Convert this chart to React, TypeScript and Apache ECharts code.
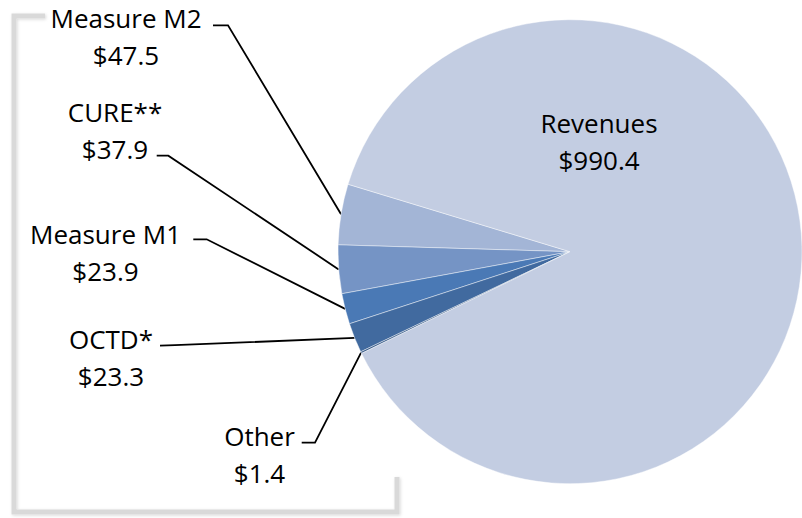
import React, { useEffect, useRef } from "react";
import * as echarts from "echarts";

const categories = ["Measure M2", "CURE**", "Measure M1", "OCTD*", "Other", "Revenues"];
const values = [47.5, 37.9, 23.9, 23.3, 1.4, 990.4];
const colors = ["#a3b5d6", "#7594c5", "#4a79b5", "#416a9f", "#3b5e8c", "#c3cde2"];

// label block centres and label-line elbow/end points (layout only)
const labelPos: { x: number; y: number; elbow?: number[]; end?: number[] }[] = [
  { x: 126, y: 36.5, elbow: [228, 25.3], end: [213, 25.3] },
  { x: 115, y: 130, elbow: [168.3, 155.7], end: [156.7, 155.7] },
  { x: 105.5, y: 252.5, elbow: [206.7, 239.3], end: [193.3, 239.3] },
  { x: 111, y: 357.7, elbow: [175, 345.2], end: [160, 345.7] },
  { x: 259.5, y: 454.8, elbow: [315, 442.7], end: [301.7, 442.7] },
  { x: 599, y: 141.8 },
];

export default function App() {
  const ref = useRef<HTMLDivElement>(null);
  useEffect(() => {
    if (!ref.current) return;
    const chart = echarts.init(ref.current, null, { renderer: "svg" });
    const cx = 570;
    const cy = 251.7;
    const r = 232;
    chart.setOption({
      animation: false,
      backgroundColor: "#ffffff",
      graphic: [
        {
          type: "polyline",
          shape: {
            points: [
              [45, 16],
              [14, 16],
              [14, 512],
              [397, 512],
              [397, 477],
            ],
          },
          style: {
            stroke: "#d9d9d9",
            lineWidth: 5,
            fill: null,
            shadowBlur: 3,
            shadowColor: "rgba(0,0,0,0.15)",
            shadowOffsetX: 1,
            shadowOffsetY: 1,
          },
          z: 0,
        },
      ],
      series: [
        {
          type: "pie",
          center: [cx, cy],
          radius: r,
          startAngle: 163.1,
          clockwise: false,
          avoidLabelOverlap: false,
          itemStyle: { borderColor: "rgba(255,255,255,0.55)", borderWidth: 0.8 },
          label: {
            show: true,
            position: "outside",
            color: "#000",
            fontFamily: "Open Sans",
            fontSize: 26,
            lineHeight: 37,
            align: "center",
            formatter: (p: any) => `${p.name}\n$${Number(p.value).toFixed(1)}`,
          },
          labelLine: {
            show: true,
            lineStyle: { color: "#000", width: 1.8 },
          },
          labelLayout: (params: any) => {
            const pos = labelPos[params.dataIndex];
            const out: any = {
              x: pos.x,
              y: pos.y,
              align: "center",
              verticalAlign: "middle",
            };
            if (pos.elbow && params.labelLinePoints) {
              out.labelLinePoints = [params.labelLinePoints[0], pos.elbow, pos.end];
            }
            return out;
          },
          data: categories.map((name, i) => ({
            name,
            value: values[i],
            itemStyle: { color: colors[i] },
            labelLine: { show: name !== "Revenues" },
          })),
        },
      ],
    });
    return () => chart.dispose();
  }, []);
  return (
    <div
      ref={ref}
      style={{ position: "fixed", left: 0, top: 0, width: 802, height: 518 }}
    />
  );
}
